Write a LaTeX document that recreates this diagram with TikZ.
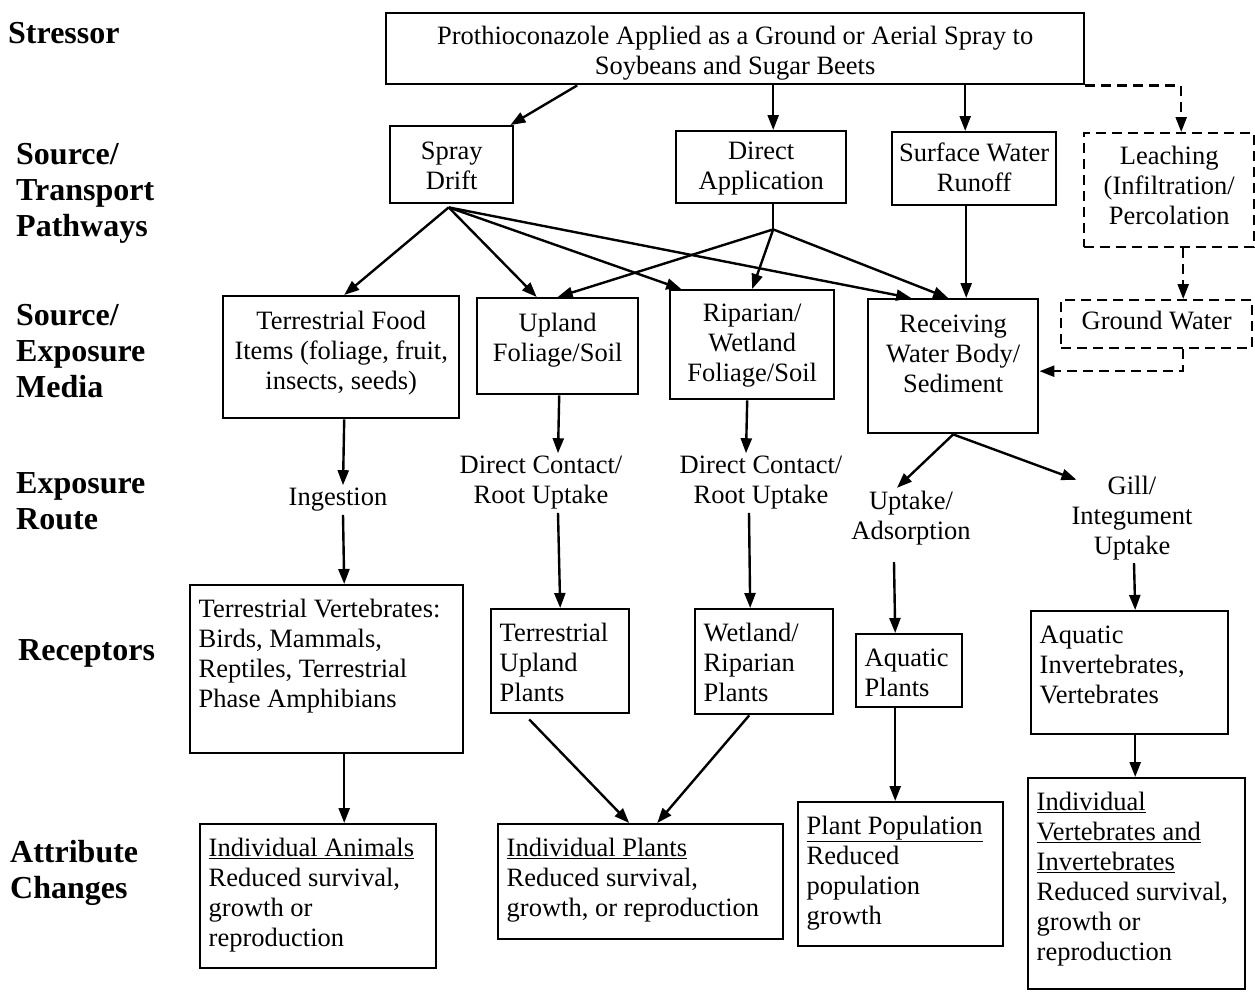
\documentclass[tikz,border=0pt]{standalone}
\usepackage{fontspec}
\setmainfont{Liberation Serif}
\usetikzlibrary{arrows.meta}
\newcommand{\bodyf}{\fontsize{26.5}{30}\selectfont}
\newcommand{\labf}{\fontsize{32}{36}\selectfont\bfseries}
\newcommand{\cbx}[4]{\parbox[c][#2][t]{#1}{\bodyf\centering\vspace*{#3}\strut#4}}
\newcommand{\lbx}[3]{\parbox[c][#2][t]{#1}{\bodyf\raggedright\leftskip=8.5pt\vspace*{11pt}\strut#3}}
\begin{document}
\begin{tikzpicture}[x=1pt,y=-1pt,
  box/.style={draw, line width=2.4pt, inner sep=0pt, anchor=north west},
  dbox/.style={box, dash pattern=on 10pt off 6pt},
  lbl/.style={align=center, inner sep=3pt, font=\bodyf},
  side/.style={align=left, inner sep=0pt, anchor=west, font=\labf},
  arr/.style={line width=2.4pt, -{Triangle[length=15pt,width=11pt]}},
  darr/.style={arr, dash pattern=on 10pt off 6pt},
  ln/.style={line width=2.4pt}]
\useasboundingbox (0,0) rectangle (1255,991);

% side labels
\node[side] (l1) at (8,33) {Stressor};
\node[side] (l2) at (16,193) {Source/\\Transport\\Pathways};
\node[side] (l3) at (16,351) {Source/\\Exposure\\Media};
\node[side] (l4) at (16,501) {Exposure\\Route};
\node[side] (l5) at (18,653) {Receptors};
\node[side] (l6) at (10,873) {Attribute\\Changes};

% stressor
\node[box] (st) at (385,12) {\cbx{698pt}{71pt}{10pt}{Prothioconazole Applied as a Ground or Aerial Spray to\\Soybeans and Sugar Beets}};

% pathways
\node[box] (sd) at (389,125) {\cbx{123pt}{77pt}{12pt}{Spray\\Drift}};
\node[box] (da) at (675,130) {\cbx{170pt}{72pt}{7pt}{Direct\\Application}};
\node[box] (sw) at (891,131) {\cbx{164pt}{73pt}{8pt}{Surface Water\\Runoff}};
\node[dbox] (le) at (1083,132) {\cbx{170pt}{114pt}{10pt}{Leaching\\(Infiltration/\\Percolation}};

% exposure media
\node[box] (tf) at (222,295) {\cbx{236pt}{122pt}{12pt}{Terrestrial Food\\Items (foliage, fruit,\\insects, seeds)}};
\node[box] (up) at (476,297) {\cbx{161pt}{96pt}{12pt}{Upland\\Foliage/Soil}};
\node[box] (ri) at (669,289) {\cbx{164pt}{109pt}{10pt}{Riparian/\\Wetland\\Foliage/Soil}};
\node[box] (rw) at (867,298) {\cbx{170pt}{134pt}{12pt}{Receiving\\Water Body/\\Sediment}};
\node[dbox] (gw) at (1060,299) {\cbx{191pt}{48pt}{8pt}{Ground Water}};

% exposure routes
\node[lbl] (ing) at (338,500) {Ingestion};
\node[lbl] (dc1) at (541,483) {Direct Contact/\\Root Uptake};
\node[lbl] (dc2) at (761,483) {Direct Contact/\\Root Uptake};
\node[lbl] (ua) at (911,518) {Uptake/\\Adsorption};
\node[lbl] (gi) at (1132,518) {Gill/\\Integument\\Uptake};

% receptors
\node[box] (tv) at (189,584) {\lbx{273pt}{168pt}{Terrestrial Vertebrates:\\Birds, Mammals,\\Reptiles, Terrestrial\\Phase Amphibians}};
\node[box] (tp) at (490,608) {\lbx{138pt}{104pt}{Terrestrial\\Upland\\Plants}};
\node[box] (wp) at (694,608) {\lbx{138pt}{105pt}{Wetland/\\Riparian\\Plants}};
\node[box] (ap) at (855,633) {\lbx{106pt}{73pt}{Aquatic\\Plants}};
\node[box] (ai) at (1030,610) {\lbx{197pt}{123pt}{Aquatic\\Invertebrates,\\Vertebrates}};

% attribute changes
\node[box] (ia) at (199,823) {\lbx{236pt}{144pt}{\underline{Individual Animals}\\Reduced survival,\\growth or\\reproduction}};
\node[box] (ip) at (497,823) {\lbx{285pt}{115pt}{\underline{Individual Plants}\\Reduced survival,\\growth, or reproduction}};
\node[box] (pp) at (797,801) {\lbx{205pt}{144pt}{\underline{Plant Population}\\Reduced\\population\\growth}};
\node[box] (iv) at (1027,777) {\lbx{217pt}{211pt}{\underline{Individual}\\\underline{Vertebrates and}\\\underline{Invertebrates}\\Reduced survival,\\growth or\\reproduction}};

% stressor arrows
\draw[arr] ([xshift=-158pt]st.south) -- ([xshift=-4pt]sd.north east);
\draw[arr] ([xshift=38pt]st.south) -- ([xshift=12pt]da.north);
\draw[arr] ([xshift=230pt]st.south) -- ([xshift=-9pt]sw.north);
\draw[darr] (st.south east) -| ([xshift=12pt]le.north);

% spray drift fan
\coordinate (sdj) at ([xshift=-3pt,yshift=-3pt]sd.south);
\draw[arr] (sdj) -- ([xshift=3pt]tf.north);
\draw[arr] (sdj) -- ([xshift=-21pt]up.north);
\draw[arr] (sdj) -- ([xshift=-71pt]ri.north);
\draw[arr] (sdj) -- ([xshift=-42pt]rw.north);

% direct application fan
\coordinate (daj) at ([xshift=12pt,yshift=-25pt]da.south);
\draw[ln] ([xshift=12pt]da.south) -- (daj);
\draw[arr] (daj) -- (up.north);
\draw[arr] (daj) -- (ri.north);
\draw[arr] (daj) -- ([xshift=-5pt]rw.north);

% runoff and leaching
\draw[arr] ([xshift=-8pt]sw.south) -- ([xshift=13pt]rw.north);
\draw[darr] ([xshift=14pt]le.south) -- ([xshift=26.5pt]gw.north);
\draw[darr] ([xshift=26.5pt]gw.south) |- ([yshift=-5pt]rw.east);

% media to routes
\draw[arr] ([xshift=3pt]tf.south) -- ([xshift=5pt]ing.north);
\draw[arr] ([xshift=1.5pt]up.south) -- ([xshift=17pt]dc1.north);
\draw[arr] ([xshift=-5pt]ri.south) -- ([xshift=-15pt]dc2.north);
\draw[arr] (rw.south) -- ([xshift=-14pt]ua.north);
\draw[arr] (rw.south) -- ([xshift=8pt,yshift=-7pt]gi.north west);

% routes to receptors
\draw[arr] ([xshift=5pt]ing.south) -- ([xshift=17.5pt]tv.north);
\draw[arr] ([xshift=17pt]dc1.south) -- (tp.north);
\draw[arr] ([xshift=-12pt]dc2.south) -- ([xshift=-14pt]wp.north);
\draw[arr] ([xshift=-17pt,yshift=-14pt]ua.south) -- ([xshift=-14pt]ap.north);
\draw[arr] ([xshift=2pt]gi.south) -- ([xshift=5.5pt]ai.north);

% receptors to attribute changes
\draw[arr] ([xshift=17.5pt]tv.south) -- ([xshift=26pt]ia.north);
\draw[arr] ([xshift=-31pt,yshift=-5pt]tp.south) -- ([xshift=-11.5pt]ip.north);
\draw[arr] ([xshift=-15pt]wp.south) -- ([xshift=16.5pt]ip.north);
\draw[arr] ([xshift=-14pt]ap.south) -- ([xshift=-5.5pt]pp.north);
\draw[arr] ([xshift=5.5pt]ai.south) -- ([xshift=-1.5pt]iv.north);
\end{tikzpicture}
\end{document}
